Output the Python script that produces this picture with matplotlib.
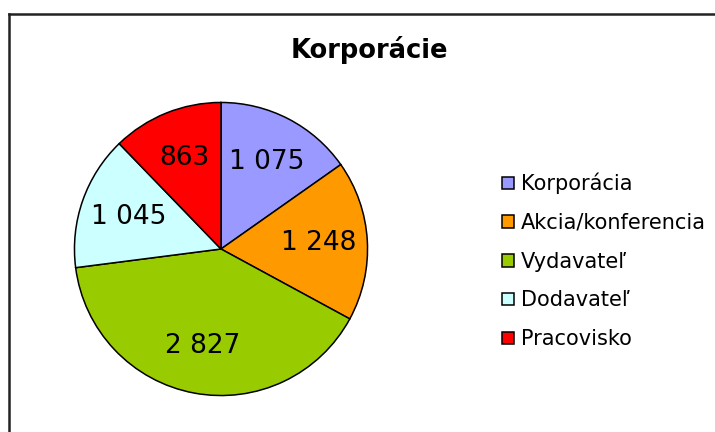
import matplotlib.pyplot as plt
from matplotlib.lines import Line2D

# Chart data
categories = ["Korporácia", "Akcia/konferencia", "Vydavateľ", "Dodavateľ", "Pracovisko"]
values = [1075, 1248, 2827, 1045, 863]
colors = ["#9999FF", "#FF9900", "#99CC00", "#CCFFFF", "#FF0000"]
title = "Korporácie"

W, H = 715, 432
fig = plt.figure(figsize=(W / 100, H / 100), dpi=100)

# Pie axes: centre ~(221, 249) px, radius ~148 px
cx, cy, r = 221, 249, 148
ax = fig.add_axes([(cx - r) / W, (H - cy - r) / H, 2 * r / W, 2 * r / H])

total = sum(values)


def fmt(pct):
    v = int(round(pct * total / 100.0))
    return f"{v:,}".replace(",", " ")


wedges, texts, autotexts = ax.pie(
    values,
    colors=colors,
    startangle=90,
    counterclock=False,
    autopct=fmt,
    pctdistance=0.67,
    wedgeprops=dict(edgecolor="black", linewidth=1.1),
    textprops=dict(fontsize=19, color="black"),
)
ax.set_xlim(-1.01, 1.01)
ax.set_ylim(-1.01, 1.01)
ax.set_aspect("auto")

fig.text(369 / W, 1 - 50 / H, title, ha="center", va="center",
         fontsize=18.5, fontweight="bold")

fig.legend(
    wedges, categories,
    loc="center left",
    bbox_to_anchor=(494 / W, 1 - 261 / H),
    frameon=False,
    fontsize=15,
    handlelength=0.55,
    handleheight=0.55,
    handletextpad=0.35,
    labelspacing=0.9,
    borderaxespad=0,
)

# Outer chart frame (top and left edges visible)
x0 = 8.5 / W
y0 = 1 - 13.5 / H
fig.add_artist(Line2D([x0, 1.0], [y0, y0], color="#222222", linewidth=1.8,
                      transform=fig.transFigure))
fig.add_artist(Line2D([x0, x0], [y0, 0.0], color="#222222", linewidth=1.8,
                      transform=fig.transFigure))

fig.savefig("out.png", dpi=100)
